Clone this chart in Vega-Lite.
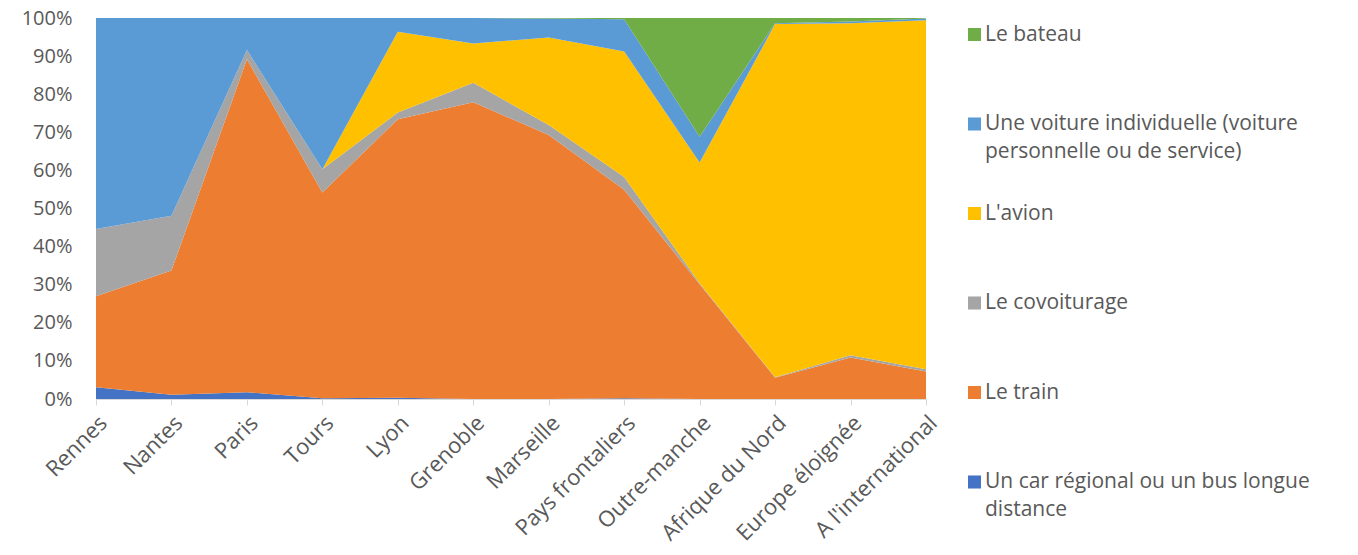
{
  "$schema": "https://vega.github.io/schema/vega-lite/v6.json",
  "width": 830,
  "height": 381,
  "autosize": {"type": "none"},
  "padding": {"left": 96, "top": 18, "right": 432, "bottom": 156},
  "background": "white",
  "config": {
    "view": {"stroke": null},
    "font": "Open Sans",
    "style": {"guide-label": {"lineHeight": 28}}
  },
  "data": {
    "values": [
      {"ville": "Rennes", "mode": "Un car régional ou un bus longue distance", "part": 3.1},
      {"ville": "Rennes", "mode": "Le train", "part": 23.9},
      {"ville": "Rennes", "mode": "Le covoiturage", "part": 17.6},
      {"ville": "Rennes", "mode": "L'avion", "part": 0},
      {"ville": "Rennes", "mode": "Une voiture individuelle (voiture personnelle ou de service)", "part": 55.4},
      {"ville": "Rennes", "mode": "Le bateau", "part": 0},
      {"ville": "Nantes", "mode": "Un car régional ou un bus longue distance", "part": 1.1},
      {"ville": "Nantes", "mode": "Le train", "part": 32.6},
      {"ville": "Nantes", "mode": "Le covoiturage", "part": 14.4},
      {"ville": "Nantes", "mode": "L'avion", "part": 0},
      {"ville": "Nantes", "mode": "Une voiture individuelle (voiture personnelle ou de service)", "part": 51.9},
      {"ville": "Nantes", "mode": "Le bateau", "part": 0},
      {"ville": "Paris", "mode": "Un car régional ou un bus longue distance", "part": 1.8},
      {"ville": "Paris", "mode": "Le train", "part": 87.4},
      {"ville": "Paris", "mode": "Le covoiturage", "part": 2.4},
      {"ville": "Paris", "mode": "L'avion", "part": 0},
      {"ville": "Paris", "mode": "Une voiture individuelle (voiture personnelle ou de service)", "part": 8.4},
      {"ville": "Paris", "mode": "Le bateau", "part": 0},
      {"ville": "Tours", "mode": "Un car régional ou un bus longue distance", "part": 0.2},
      {"ville": "Tours", "mode": "Le train", "part": 54.0},
      {"ville": "Tours", "mode": "Le covoiturage", "part": 6.1},
      {"ville": "Tours", "mode": "L'avion", "part": 0},
      {"ville": "Tours", "mode": "Une voiture individuelle (voiture personnelle ou de service)", "part": 39.7},
      {"ville": "Tours", "mode": "Le bateau", "part": 0},
      {"ville": "Lyon", "mode": "Un car régional ou un bus longue distance", "part": 0.3},
      {"ville": "Lyon", "mode": "Le train", "part": 73.1},
      {"ville": "Lyon", "mode": "Le covoiturage", "part": 1.8},
      {"ville": "Lyon", "mode": "L'avion", "part": 21.2},
      {"ville": "Lyon", "mode": "Une voiture individuelle (voiture personnelle ou de service)", "part": 3.6},
      {"ville": "Lyon", "mode": "Le bateau", "part": 0},
      {"ville": "Grenoble", "mode": "Un car régional ou un bus longue distance", "part": 0},
      {"ville": "Grenoble", "mode": "Le train", "part": 77.9},
      {"ville": "Grenoble", "mode": "Le covoiturage", "part": 5.1},
      {"ville": "Grenoble", "mode": "L'avion", "part": 10.3},
      {"ville": "Grenoble", "mode": "Une voiture individuelle (voiture personnelle ou de service)", "part": 6.7},
      {"ville": "Grenoble", "mode": "Le bateau", "part": 0},
      {"ville": "Marseille", "mode": "Un car régional ou un bus longue distance", "part": 0},
      {"ville": "Marseille", "mode": "Le train", "part": 69.3},
      {"ville": "Marseille", "mode": "Le covoiturage", "part": 2.6},
      {"ville": "Marseille", "mode": "L'avion", "part": 23.0},
      {"ville": "Marseille", "mode": "Une voiture individuelle (voiture personnelle ou de service)", "part": 5.0},
      {"ville": "Marseille", "mode": "Le bateau", "part": 0.1},
      {"ville": "Pays frontaliers", "mode": "Un car régional ou un bus longue distance", "part": 0.2},
      {"ville": "Pays frontaliers", "mode": "Le train", "part": 54.7},
      {"ville": "Pays frontaliers", "mode": "Le covoiturage", "part": 3.4},
      {"ville": "Pays frontaliers", "mode": "L'avion", "part": 32.9},
      {"ville": "Pays frontaliers", "mode": "Une voiture individuelle (voiture personnelle ou de service)", "part": 8.5},
      {"ville": "Pays frontaliers", "mode": "Le bateau", "part": 0.3},
      {"ville": "Outre-manche", "mode": "Un car régional ou un bus longue distance", "part": 0},
      {"ville": "Outre-manche", "mode": "Le train", "part": 30.1},
      {"ville": "Outre-manche", "mode": "Le covoiturage", "part": 0.3},
      {"ville": "Outre-manche", "mode": "L'avion", "part": 31.7},
      {"ville": "Outre-manche", "mode": "Une voiture individuelle (voiture personnelle ou de service)", "part": 6.7},
      {"ville": "Outre-manche", "mode": "Le bateau", "part": 31.2},
      {"ville": "Afrique du Nord", "mode": "Un car régional ou un bus longue distance", "part": 0},
      {"ville": "Afrique du Nord", "mode": "Le train", "part": 5.6},
      {"ville": "Afrique du Nord", "mode": "Le covoiturage", "part": 0.1},
      {"ville": "Afrique du Nord", "mode": "L'avion", "part": 92.7},
      {"ville": "Afrique du Nord", "mode": "Une voiture individuelle (voiture personnelle ou de service)", "part": 0.2},
      {"ville": "Afrique du Nord", "mode": "Le bateau", "part": 1.4},
      {"ville": "Europe éloignée", "mode": "Un car régional ou un bus longue distance", "part": 0},
      {"ville": "Europe éloignée", "mode": "Le train", "part": 10.9},
      {"ville": "Europe éloignée", "mode": "Le covoiturage", "part": 0.6},
      {"ville": "Europe éloignée", "mode": "L'avion", "part": 87.1},
      {"ville": "Europe éloignée", "mode": "Une voiture individuelle (voiture personnelle ou de service)", "part": 0.5},
      {"ville": "Europe éloignée", "mode": "Le bateau", "part": 0.9},
      {"ville": "A l'international", "mode": "Un car régional ou un bus longue distance", "part": 0},
      {"ville": "A l'international", "mode": "Le train", "part": 7.2},
      {"ville": "A l'international", "mode": "Le covoiturage", "part": 0.6},
      {"ville": "A l'international", "mode": "L'avion", "part": 91.6},
      {"ville": "A l'international", "mode": "Une voiture individuelle (voiture personnelle ou de service)", "part": 0.5},
      {"ville": "A l'international", "mode": "Le bateau", "part": 0.1}
    ]
  },
  "transform": [
    {"calculate": "indexof(['Un car régional ou un bus longue distance', 'Le train', 'Le covoiturage', \"L'avion\", 'Une voiture individuelle (voiture personnelle ou de service)', 'Le bateau'], datum.mode)", "as": "ordre"}
  ],
  "mark": {"type": "area", "interpolate": "linear"},
  "encoding": {
    "x": {
      "field": "ville",
      "type": "nominal",
      "sort": null,
      "scale": {"type": "point", "padding": 0},
      "axis": {
        "title": null,
        "labelAngle": -45,
        "labelFontSize": 22,
        "labelColor": "#595959",
        "labelPadding": 7,
        "domainColor": "#D9D9D9",
        "tickColor": "#D9D9D9",
        "tickSize": 6,
        "grid": false
      }
    },
    "y": {
      "field": "part",
      "type": "quantitative",
      "stack": "normalize",
      "scale": {"domain": [0, 1], "nice": false},
      "axis": {
        "title": null,
        "format": ".0%",
        "values": [0, 0.1, 0.2, 0.3, 0.4, 0.5, 0.6, 0.7, 0.8, 0.9, 1],
        "domain": false,
        "ticks": false,
        "grid": false,
        "labelFontSize": 20,
        "labelColor": "#595959",
        "labelPadding": 24
      }
    },
    "order": {"field": "ordre", "type": "quantitative", "sort": "ascending"},
    "color": {
      "field": "mode",
      "type": "nominal",
      "scale": {
        "domain": ["Le bateau", "Une voiture individuelle (voiture personnelle ou de service)", "L'avion", "Le covoiturage", "Le train", "Un car régional ou un bus longue distance"],
        "range": ["#70AD47", "#5B9BD5", "#FFC000", "#A5A5A5", "#ED7D31", "#4472C4"]
      },
      "legend": {
        "title": null,
        "orient": "none",
        "legendX": 868,
        "legendY": 6,
        "symbolType": "square",
        "symbolSize": 170,
        "symbolStrokeWidth": 0,
        "symbolOpacity": 1,
        "labelFontSize": 21,
        "labelColor": "#595959",
        "labelLimit": 500,
        "labelOffset": 0,
        "labelBaseline": "middle",
        "rowPadding": 39.5,
        "labelExpr": "datum.label == 'Une voiture individuelle (voiture personnelle ou de service)' ? ['Une voiture individuelle (voiture', 'personnelle ou de service)'] : datum.label == 'Un car régional ou un bus longue distance' ? ['Un car régional ou un bus longue', 'distance'] : [datum.label, '']"
      }
    }
  }
}
